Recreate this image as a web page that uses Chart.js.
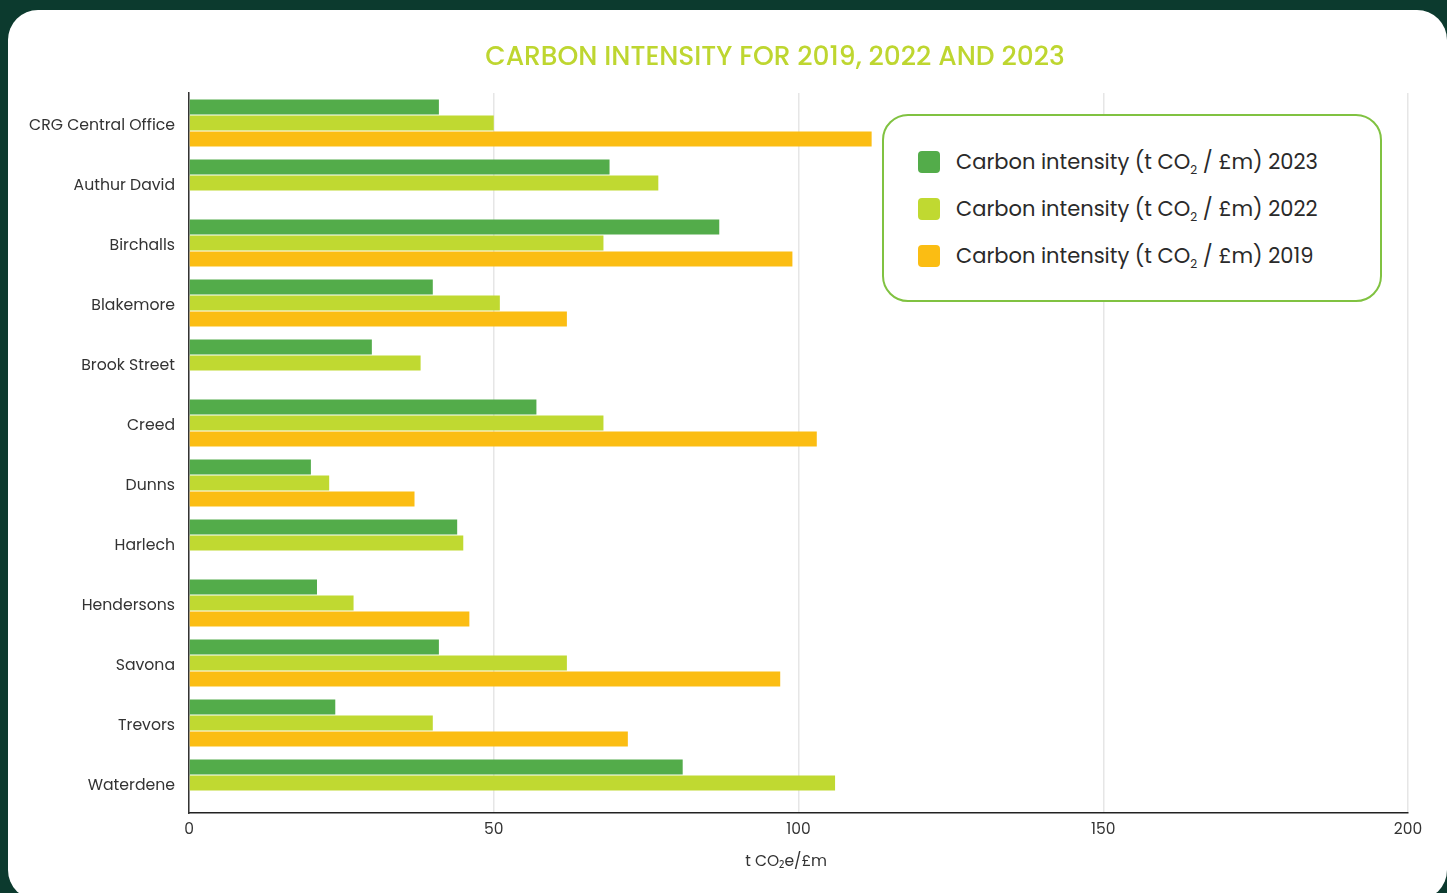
<!DOCTYPE html>
<html>
<head>
<meta charset="utf-8">
<script src="https://cdn.jsdelivr.net/npm/chart.js@4/dist/chart.umd.min.js"></script>
<style>
  html, body { margin:0; padding:0; width:1447px; height:893px; overflow:hidden; background:#0c3a2e; font-family:Poppins, "Open Sans", sans-serif; }
  #card { position:absolute; left:8px; top:10px; width:1439px; height:890px; background:#fff; border-radius:30px; }
  #title { position:absolute; left:775px; top:36px; transform:translateX(-50%); white-space:nowrap; color:#bed630; font-size:26.5px; font-weight:500; letter-spacing:0px; }
  #chart { position:absolute; left:0; top:0; }
  #legend { position:absolute; left:882px; top:114px; width:500px; height:188px; border:2.5px solid #80c241; border-radius:26px; box-sizing:border-box; background:#fff; }
  .item { position:absolute; left:34px; height:28px; line-height:28px; font-size:21px; color:#2a2a2a; white-space:nowrap; }
  .sw { position:absolute; left:0; top:3px; width:22px; height:22px; border-radius:4px; }
  .txt { position:absolute; left:38px; top:0; }
  sub { font-size:12px; vertical-align:-5px; line-height:0; }
</style>
</head>
<body>
<div id="card"></div>
<canvas id="chart" width="1447" height="893"></canvas>
<div id="title">CARBON INTENSITY FOR 2019, 2022 AND 2023</div>
<div id="legend"></div>
<script>
const categories = ["CRG Central Office","Authur David","Birchalls","Blakemore","Brook Street","Creed","Dunns","Harlech","Hendersons","Savona","Trevors","Waterdene"];
const values2023 = [41, 69, 87, 40, 30, 57, 20, 44, 21, 41, 24, 81];
const values2022 = [50, 77, 68, 51, 38, 68, 23, 45, 27, 62, 40, 106];
const values2019 = [112, null, 99, 62, null, 103, 37, null, 46, 97, 72, null];
const seriesLabels = ["2023", "2022", "2019"];
const seriesColors = ["#53ac4a", "#c0d931", "#fbbd13"];
const xTicks = [0, 50, 100, 150, 200];

const legend = document.getElementById('legend');
seriesLabels.forEach((yr, i) => {
  const it = document.createElement('div');
  it.className = 'item';
  it.style.top = (32 + i * 47) + 'px';
  it.innerHTML = '<span class="sw" style="background:' + seriesColors[i] + '"></span><span class="txt">Carbon intensity (t CO<sub>2</sub> / £m) ' + yr + '</span>';
  legend.appendChild(it);
});

const fontFam = 'Poppins, "Open Sans", sans-serif';
new Chart(document.getElementById('chart'), {
  type: 'bar',
  data: {
    labels: categories,
    datasets: [
      { label: 'Carbon intensity (t CO₂ / £m) 2023', data: values2023, backgroundColor: seriesColors[0] },
      { label: 'Carbon intensity (t CO₂ / £m) 2022', data: values2022, backgroundColor: seriesColors[1] },
      { label: 'Carbon intensity (t CO₂ / £m) 2019', data: values2019, backgroundColor: seriesColors[2] }
    ]
  },
  options: {
    indexAxis: 'y',
    responsive: false,
    animation: false,
    categoryPercentage: 0.8,
    barPercentage: 0.9375,
    layout: { padding: { top: 93, right: 39, left: 0, bottom: 0 } },
    plugins: { legend: { display: false }, title: { display: false }, tooltip: { enabled: false } },
    scales: {
      x: {
        min: 0, max: 200, z: 1,
        afterBuildTicks: s => { s.ticks = xTicks.map(v => ({ value: v })); },
        ticks: { color: '#333', font: { family: fontFam, size: 15.5 }, padding: 8 },
        grid: { color: '#e6e6e6', lineWidth: 1.5, drawTicks: false },
        border: { display: true, color: '#222', width: 1.5 },
        title: { display: true, text: 't CO₂e/£m      ', color: '#333', font: { family: fontFam, size: 15.5 }, padding: { top: 0, bottom: 22 } },
        afterFit: s => { s.height = 80; }
      },
      y: {
        z: 2,
        grid: { display: false, drawTicks: false },
        border: { display: true, color: '#333', width: 1.5 },
        ticks: { color: '#333', font: { family: fontFam, size: 15.7 }, padding: 14, labelOffset: 3 },
        afterFit: s => { s.width = 189; }
      }
    }
  }
});
</script>
</body>
</html>
